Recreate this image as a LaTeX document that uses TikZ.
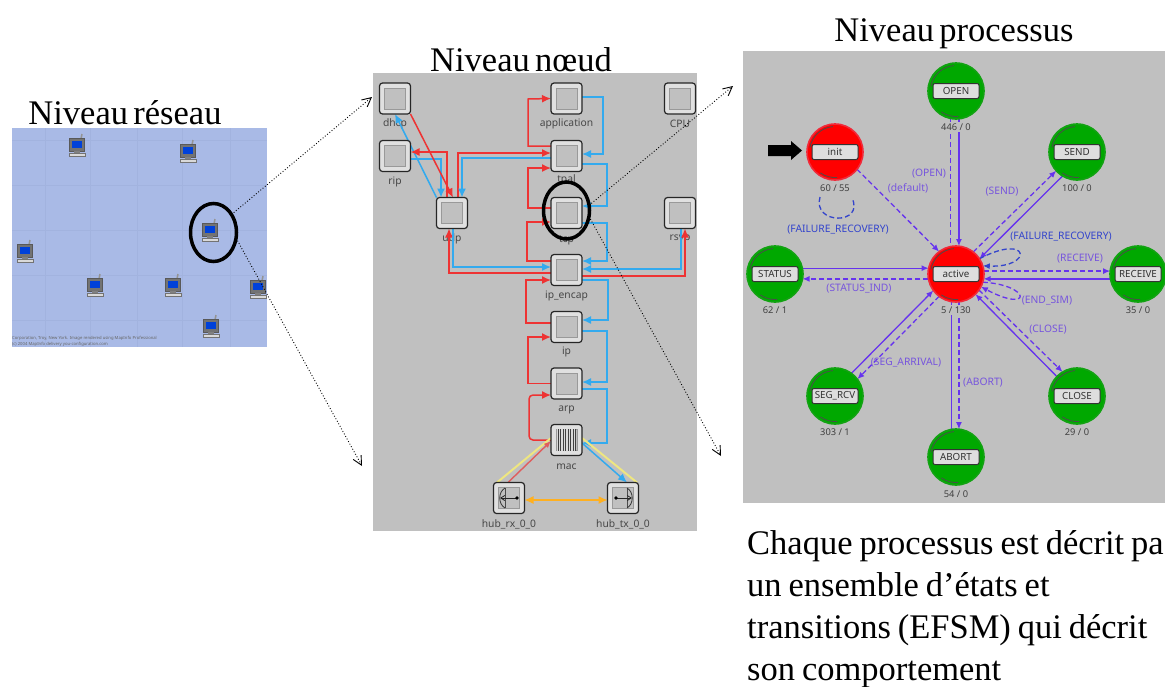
\documentclass[tikz,border=0pt]{standalone}
\usepackage{fontspec}
\setmainfont[WordSpace=0.62]{Liberation Serif}
\newfontfamily\parafont[WordSpace=0.8]{Liberation Serif}
\newfontfamily\uifont{Noto Sans}
\usetikzlibrary{arrows.meta,shapes.geometric,calc}
\definecolor{panelgray}{HTML}{C0C0C0}
\definecolor{panelblue}{HTML}{A9BAE6}
\definecolor{gridblue}{HTML}{A2B3DF}
\definecolor{modred}{HTML}{EE3333}
\definecolor{modblue}{HTML}{33AAEE}
\definecolor{modyellow}{HTML}{EEE680}
\definecolor{modorange}{HTML}{FFB020}
\definecolor{statepurple}{HTML}{6633EE}
\definecolor{loopblue}{HTML}{3344CC}
\definecolor{labelpurple}{HTML}{7755DD}
\definecolor{stategreen}{HTML}{00A800}
\definecolor{statered}{HTML}{FF0000}
\definecolor{stategreenedge}{HTML}{12A212}
\definecolor{staterededge}{HTML}{F02A3A}
\pgfdeclarelayer{bg}\pgfdeclarelayer{edge}
\pgfsetlayers{bg,edge,main}
\tikzset{
  title/.style={font=\fontsize{34.5}{38}\selectfont,inner sep=0pt,text=black,anchor=base},
  modbox/.style={rectangle,rounded corners=3,draw=black!85,line width=1.2,fill=black!12,minimum size=31,inner sep=0,outer sep=0},
  modin/.style={rectangle,draw=black!40,fill=panelgray,line width=.8,minimum size=21,inner sep=0},
  modlabel/.style={font=\uifont\fontsize{10.3}{11}\selectfont,text=black!72,inner sep=0},
  rline/.style={draw=modred,line width=1.5,-{Latex[length=9,width=8]}},
  bline/.style={draw=modblue,line width=1.5,-{Latex[length=9,width=8]}},
  yline/.style={draw=modyellow,line width=2},
  ringmark/.style={ellipse,draw=black,line width=3.5,inner sep=0,outer sep=0},
  dotlink/.style={draw=black,dotted,line width=.9,-{Straight Barb[length=9,width=9]}},
  statenode/.style={circle,minimum size=56,inner sep=0,outer sep=0,line width=1.6},
  statetag/.style={rectangle,rounded corners=2,draw=black!80,line width=1,fill=black!13,minimum width=46,minimum height=15,inner sep=0,font=\uifont\fontsize{9.8}{10}\selectfont,text=black!80},
  statecount/.style={fill=panelgray,inner sep=1.5,font=\uifont\fontsize{9.3}{10}\selectfont,text=black!75},
  tsolid/.style={draw=statepurple,line width=1.3,-{Latex[length=7,width=6]}},
  tdash/.style={draw=statepurple,line width=1.3,dash pattern=on 5pt off 3pt,-{Latex[length=7,width=6]}},
  tdashnotip/.style={draw=statepurple,line width=1.3,dash pattern=on 5pt off 3pt},
  tsolidnotip/.style={draw=statepurple,line width=1.3},
  tlabel/.style={font=\uifont\fontsize{10.3}{11}\selectfont,text=labelpurple,inner sep=0},
}
\newcommand\pcicon[3]{%
  \begin{scope}[shift={(#2,#3)}]
    \draw[black!42,line width=1.5] (4,-6) -- (5,-11);
    \node[rectangle,fill=black!55,draw=black!65,line width=.4,minimum width=15,minimum height=13,inner sep=0] (#1) at (0,0) {};
    \fill[blue!70!cyan!85!black] (-5,-4.5) rectangle (5,2.5);
    \fill[black!50] (-3,6) rectangle (3,8);
    \fill[black!15] (-8,8) rectangle (8,11);
    \draw[black!55,line width=.4] (-8,8) rectangle (8,11);
  \end{scope}}
\newcommand\modu[5]{%
  \node[modbox] (#1) at (#2,#3) {};
  \node[modin] (#1-in) at (#1) {};
  \begin{pgfonlayer}{bg}\node[modlabel] (#1-lab) at (#2,#5) {#4};\end{pgfonlayer}}
\newcommand\stat[7]{%
  \node[statenode,fill=#4,draw=#4edge] (#1) at (#2,#3) {};
  \draw[black!70,line width=.8] (#2,#3) ++(125:25.5) arc (125:85:25.5);
  \draw[black!70,line width=.8] (#2,#3) ++(190:25.5) arc (190:265:25.5);
  \node[statetag] (#1-tag) at (#2,#3) {#5};
  \node[statecount] (#1-count) at (#2,#7) {#6};}
\begin{document}
\begin{tikzpicture}[x=1pt,y=-1pt]
\useasboundingbox (0,0) rectangle (1165,686);
\begin{pgfonlayer}{bg}
  \fill[panelblue] (12,128) rectangle (267,347);
  \foreach \gx in {45,90,137,182,230} \draw[gridblue,line width=.6] (\gx,128) -- (\gx,347);
  \foreach \gy in {140,185,230,275,320} \draw[gridblue,line width=.6] (12,\gy) -- (267,\gy);
  \fill[panelgray] (373,73) rectangle (697,531);
  \fill[panelgray] (743,51) rectangle (1165,503);
\end{pgfonlayer}
% titles
\node[title] (t-res) at (125,124) {Niveau réseau};
\node[title] (t-noe) at (521,71) {Niveau nœud};
\node[title] (t-pro) at (954,41) {Niveau processus};
\node[title,anchor=west,align=left,font=\parafont\fontsize{34.5}{42}\selectfont] (t-desc) at (747,609.5) {Chaque processus est décrit pa\\un ensemble d’états et\\transitions (EFSM) qui décrit\\son comportement};
% network level
\pcicon{pc-a}{77}{145}
\pcicon{pc-b}{188}{151}
\pcicon{pc-c}{210}{230}
\pcicon{pc-d}{25}{251}
\pcicon{pc-e}{95}{285}
\pcicon{pc-f}{173}{285}
\pcicon{pc-g}{258}{287}
\pcicon{pc-h}{211}{326}
\node[font=\uifont\fontsize{4.2}{3.7}\selectfont,text=black!60,anchor=west,align=left,inner sep=0] (map-note) at (12,341.5) {Corporation, Troy, New York. Image rendered using MapInfo Professional\\(c) 2004 MapInfo delivery you-configuration.com};
% modules
\modu{dhcp}{395}{98.5}{dhcp}{124}
\modu{rip}{395}{156}{rip}{182}
\modu{udp}{452}{213}{udp}{239}
\modu{application}{566.5}{98.5}{application}{124}
\modu{cpu}{680}{98.5}{CPU}{124}
\modu{tpal}{566.5}{156}{tpal}{180}
\modu{tcp}{566.5}{213}{tcp}{240}
\modu{rsvp}{680}{213}{rsvp}{239}
\modu{ipencap}{566.5}{270}{ip\_encap}{296}
\modu{ip}{566.5}{327}{ip}{352}
\modu{arp}{566.5}{383.5}{arp}{410}
\modu{mac}{566.5}{440}{mac}{467}
\modu{hubrx}{509}{498}{hub\_rx\_0\_0}{524}
\modu{hubtx}{623}{498}{hub\_tx\_0\_0}{524}
% mac bars
\fill[black!15] (557,429) rectangle (576,451);
\foreach \bx in {558,560.5,563,565.5,568,570.5,573,575.5} \draw[black!75,line width=1] (\bx,429) -- (\bx,451);
% hub icons
\draw[black!70,line width=.8] (505,488) -- (505,508);
\draw[black!80,line width=.8] (505,488) .. controls (498,492) and (498,504) .. (505,508);
\draw[black!85,line width=.8,-{Straight Barb[length=4,width=5]}] (517,498) -- (500,498);
\fill[black] (517,498) circle (1.8);
\draw[black!70,line width=.8] (627,488) -- (627,508);
\draw[black!80,line width=.8] (627,488) .. controls (634,492) and (634,504) .. (627,508);
\draw[black!85,line width=.8,-{Straight Barb[length=4,width=5]}] (616,498) -- (632,498);
\fill[black] (616,498) circle (1.8);
% module connectors
\begin{pgfonlayer}{edge}
  \draw[bline] (udp.north west) -- (dhcp.south);
  \draw[bline] ([yshift=-3]rip.east) -- (441,159) -- ([xshift=-11]udp.north);
  \draw[rline] (dhcp.south east) -- ([xshift=1]udp.north);
  \draw[rline] ([xshift=-5]udp.north) -- (447,152) -- ([yshift=4]rip.east);
  \draw[rline] ([xshift=6]udp.north) -- (458,153) -- ([yshift=3]tpal.west);
  \draw[bline] ([yshift=-2]tpal.west) -- (462,158) -- ([xshift=10]udp.north);
  \draw[rline] ([yshift=10]tpal.west) -- (528,146) -- (528,99) -- (application.west);
  \draw[bline] ([yshift=1.5]application.east) -- (603,97) -- (603,154) -- ([yshift=2]tpal.east);
  \draw[rline] ([yshift=5]tcp.west) -- (528,208) -- (528,168) -- ([yshift=-12]tpal.west);
  \draw[bline] ([yshift=-8]tpal.east) -- (607,164) -- (607,206) -- ([yshift=7]tcp.east);
  \draw[rline] ([yshift=9]ipencap.west) -- (527,261) -- (527,222) -- ([yshift=-9]tcp.west);
  \draw[bline] ([yshift=-10]tcp.east) -- (607,223) -- (607,261) -- ([yshift=9]ipencap.east);
  \draw[rline] ([yshift=4]ip.west) -- (526,323) -- (526,280) -- ([yshift=-10]ipencap.west);
  \draw[bline] ([yshift=-10]ipencap.east) -- (608,280) -- (608,320) -- ([yshift=7]ip.east);
  \draw[rline] (arp.west) -- (528,383.5) -- (528,337) -- ([yshift=-10]ip.west);
  \draw[bline] ([yshift=-4]ip.east) -- (607,331) -- (607,382) -- ([yshift=1.5]arp.east);
  \draw[rline,rounded corners=4] (mac.west) -- (529,440) -- (529,395) -- ([yshift=-11.5]arp.west);
  \draw[bline] ([yshift=-5.5]arp.east) -- (607,389) -- (607,443) -- ([yshift=-3]mac.east);
  \draw[bline] ([xshift=1]rsvp.south) -- (681,269) -- ([yshift=1]ipencap.east);
  \draw[rline] ([yshift=-6]ipencap.east) -- (685,276) -- ([xshift=5]rsvp.south);
  \draw[rline] ([yshift=-3]ipencap.west) -- (449,273) -- ([xshift=-3]udp.south);
  \draw[bline] ([xshift=1]udp.south) -- (453,267) -- ([yshift=3]ipencap.west);
  \draw[yline] ([xshift=-12]hubrx.north) -- ([yshift=2]mac.west);
  \draw[draw=modred!70!panelgray,line width=1.4,-{Latex[length=7,width=6]}] ([xshift=-1]hubrx.north) -- ([yshift=-1]mac.west);
  \draw[yline] ([yshift=2]mac.east) -- ([xshift=14]hubtx.north);
  \draw[bline] ([yshift=-3]mac.east) -- ([xshift=4]hubtx.north);
  \draw[draw=modorange,line width=1.3,{Latex[length=9,width=8]}-{Latex[length=9,width=8]}] ([yshift=-2]hubrx.east) -- ([yshift=-2]hubtx.west);
\end{pgfonlayer}
% states
\stat{st-open}{956}{91}{stategreen}{OPEN}{446 / 0}{127}
\stat{st-init}{835}{152}{statered}{init}{60 / 55}{188}
\stat{st-send}{1077}{152}{stategreen}{SEND}{100 / 0}{188}
\stat{st-status}{775}{274}{stategreen}{STATUS}{62 / 1}{310}
\stat{st-active}{956}{274}{statered}{active}{5 / 130}{310}
\stat{st-receive}{1138}{274}{stategreen}{RECEIVE}{35 / 0}{310}
\stat{st-seg}{835}{396}{stategreen}{SEG\_RCV}{303 / 1}{432}
\stat{st-close}{1077}{396}{stategreen}{CLOSE}{29 / 0}{432}
\stat{st-abort}{956}{457}{stategreen}{ABORT}{54 / 0}{494}
\coordinate (loop-a) at (820,197);
\coordinate (loop-b) at (852,198);
\begin{pgfonlayer}{edge}
  \draw[tsolid] (st-open.-84) -- (st-active.84);
  \draw[tdashnotip] (st-open.-102) -- (st-active.102);
  \draw[tdash] (st-init.-38) -- (st-active.127);
  \draw[tdash] (st-active.52) -- (st-send.222);
  \draw[tsolid] (st-send.239) -- (st-active.33);
  \draw[tsolid] (st-status.12) -- (st-active.168);
  \draw[tdash] (st-active.190) -- (st-status.-10);
  \draw[tdash] (st-active.6) -- (st-receive.174);
  \draw[tsolid] (st-receive.190) -- (st-active.-10);
  \draw[tdash] (st-active.-35) -- (st-close.121);
  \draw[tsolid] (st-close.136) -- (st-active.-46);
  \draw[tdash] (st-active.-84) -- (st-abort.84);
  \draw[tsolidnotip] (st-active.-99) -- (st-abort.99);
  \draw[tsolid] (st-seg.54) -- (st-active.216);
  \draw[tdash] (st-active.233) -- (st-seg.37);
  \draw[tdash,draw=loopblue] (st-active.33) .. controls (1030,232) and (1034,268) .. (st-active.17);
  \draw[tdash] (st-active.-17) .. controls (1032,285) and (1032,314) .. (st-active.-27);
  \draw[tdashnotip,draw=loopblue] (loop-a) .. controls (812,225) and (865,225) .. (loop-b);
\end{pgfonlayer}
\node[tlabel] (l-open) at (929,174) {(OPEN)};
\node[tlabel] (l-default) at (908,188) {(default)};
\node[tlabel] (l-send) at (1002,192) {(SEND)};
\node[tlabel,text=loopblue] (l-fail1) at (838,230) {(FAILURE\_RECOVERY)};
\node[tlabel,text=loopblue] (l-fail2) at (1061,237) {(FAILURE\_RECOVERY)};
\node[tlabel] (l-receive) at (1080,259) {(RECEIVE)};
\node[tlabel] (l-status) at (859,289) {(STATUS\_IND)};
\node[tlabel] (l-endsim) at (1047,301) {(END\_SIM)};
\node[tlabel] (l-close) at (1048,330) {(CLOSE)};
\node[tlabel] (l-seg) at (906,363) {(SEG\_ARRIVAL)};
\node[tlabel] (l-abort) at (983,383) {(ABORT)};
% start arrow
\fill[black] (768,145) -- (791,145) -- (791,141) -- (802,150.5) -- (791,160) -- (791,156) -- (768,156) -- cycle;
% rings and zoom links
\node[ringmark,minimum width=46,minimum height=58] (ring-net) at (213.5,232.5) {};
\node[ringmark,minimum width=46,minimum height=57] (ring-node) at (566.5,210.5) {};
\coordinate (zoom-a) at (372,97);
\coordinate (zoom-b) at (362,466);
\coordinate (zoom-c) at (733,86);
\coordinate (zoom-d) at (721,456);
\draw[dotlink] (ring-net.45) -- (zoom-a);
\draw[dotlink] (ring-net.-14) -- (zoom-b);
\draw[dotlink] (ring-node.13) -- (zoom-c);
\draw[dotlink] (ring-node.-15) -- (zoom-d);
\end{tikzpicture}
\end{document}
